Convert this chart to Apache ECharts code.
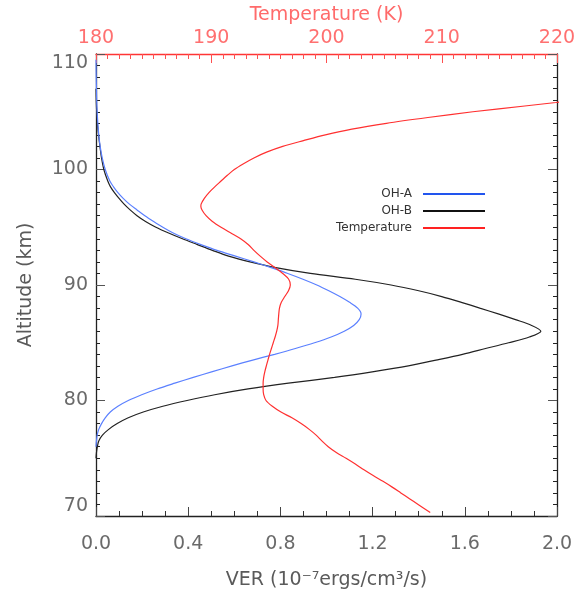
<!DOCTYPE html>
<html><head><meta charset="utf-8">
<script src="https://cdn.jsdelivr.net/npm/echarts@6/dist/echarts.min.js"></script>
<style>html,body{margin:0;padding:0;background:#fff}#c{width:577px;height:590px}</style>
</head><body><div id="c"></div>
<script>
// Altitude (km) and VER (1e-7 ergs/cm3/s) for OH-A
const ohaAlt = [76.0,76.5,77.0,77.5,78.0,78.5,79.0,79.5,80.0,80.5,81.0,81.5,82.0,82.5,83.0,83.5,84.0,84.5,85.0,85.5,86.0,86.5,87.0,87.5,88.0,88.5,89.0,89.5,90.0,90.5,91.0,91.5,92.0,92.5,93.0,93.5,94.0,94.5,95.0,95.5,96.0,96.5,97.0,97.5,98.0,98.5,99.0,100.0,101.0,102.0,103.0,104.0,105.0,106.0,107.0,108.0,109.5];
const ohaVer = [0.0,0.002,0.005,0.012,0.024,0.040,0.062,0.095,0.140,0.198,0.265,0.342,0.422,0.505,0.590,0.680,0.775,0.865,0.948,1.020,1.077,1.118,1.142,1.150,1.135,1.100,1.058,1.010,0.958,0.898,0.832,0.760,0.685,0.605,0.525,0.455,0.390,0.335,0.290,0.250,0.212,0.178,0.145,0.118,0.095,0.076,0.060,0.040,0.027,0.018,0.012,0.008,0.005,0.003,0.002,0.001,0.0];
// OH-B
const ohbAlt = [75.0,75.5,76.0,76.5,77.0,77.5,78.0,78.5,79.0,79.5,80.0,80.5,81.0,81.5,82.0,82.5,83.0,83.5,84.0,84.5,85.0,85.5,86.0,86.5,87.0,87.5,88.0,88.5,89.0,89.5,90.0,90.5,91.0,91.5,92.0,92.5,93.0,93.5,94.0,94.5,95.0,95.5,96.0,96.5,97.0,97.5,98.0,98.5,99.0,100.0,101.0,102.0,103.0,104.0,105.0,106.0,107.0];
const ohbVer = [0.0,0.002,0.006,0.012,0.028,0.055,0.092,0.140,0.205,0.290,0.395,0.515,0.660,0.835,1.035,1.205,1.355,1.475,1.590,1.690,1.790,1.880,1.930,1.890,1.820,1.745,1.665,1.585,1.500,1.400,1.280,1.125,0.930,0.780,0.668,0.575,0.505,0.440,0.375,0.315,0.260,0.215,0.178,0.148,0.122,0.100,0.080,0.063,0.051,0.034,0.024,0.017,0.011,0.006,0.003,0.001,0.0];
// Temperature (K)
const tAlt = [70.3,71.0,71.5,72.0,72.5,73.0,73.5,74.0,74.5,75.0,75.5,76.0,76.5,77.0,77.5,78.0,78.5,79.0,79.5,80.0,80.5,81.0,81.5,82.0,82.5,83.0,83.5,84.0,84.5,85.0,85.5,86.0,86.5,87.0,87.5,88.0,88.5,89.0,89.5,90.0,90.5,91.0,91.5,92.0,92.5,93.0,93.5,94.0,94.5,95.0,95.5,96.0,96.5,96.8,97.0,97.5,98.0,98.5,99.0,99.5,100.0,100.5,101.0,101.5,102.0,102.5,103.0,103.5,104.0,104.5,105.0,105.5,105.8,106.0];
const tVal = [209.0,207.95,207.2,206.45,205.7,204.9,204.05,203.25,202.5,201.7,200.85,200.15,199.6,199.1,198.5,197.8,197.0,196.05,195.3,194.75,194.55,194.5,194.5,194.55,194.65,194.78,194.92,195.06,195.22,195.38,195.54,195.68,195.78,195.82,195.86,195.92,196.08,196.38,196.7,196.86,196.72,196.2,195.55,194.85,194.25,193.7,193.2,192.55,191.7,190.85,190.1,189.55,189.2,189.1,189.12,189.4,189.8,190.3,190.85,191.4,192.0,192.8,193.7,194.8,196.2,198.0,199.9,202.2,205.2,208.8,212.7,217.2,219.9,221.5];
const verTicks = {min:0, max:2, interval:0.4};
const tempTicks = {min:180, max:220, interval:10};
const altTicks = {min:70, max:110, interval:10};

const FONT = 'DejaVu Sans';
const pair = (xs, ys) => xs.map((x,i)=>[x, ys[i]]);

const chart = echarts.init(document.getElementById('c'));
const darkAxis = {lineStyle:{color:'#222', width:1.3}};
const lbl = {color:'#6a6a6a', fontFamily:FONT, fontSize:19};
const legText = {fontFamily:FONT, fontSize:12, color:'#333', padding:[0,6,0,0]};
chart.setOption({
  backgroundColor:'#fff',
  animation:false,
  grid:{left:96, right:20, top:54, bottom:74, containLabel:false, outerBoundsMode:'none'},
  legend:[
    {data:[{name:'OH-A', itemStyle:{color:'#2255ee'}}], right:87, top:183, align:'right', icon:'rect', itemWidth:62, itemHeight:2, textStyle:legText},
    {data:[{name:'OH-B', itemStyle:{color:'#111'}}], right:87, top:200, align:'right', icon:'rect', itemWidth:62, itemHeight:2, textStyle:legText},
    {data:[{name:'Temperature', itemStyle:{color:'#ff2222'}}], right:87, top:217, align:'right', icon:'rect', itemWidth:62, itemHeight:2, textStyle:legText}
  ],
  xAxis:[
    {type:'value', position:'bottom', min:verTicks.min, max:verTicks.max, interval:verTicks.interval,
     name:'VER (10\u207B\u2077ergs/cm\u00B3/s)', nameLocation:'middle', nameGap:55,
     nameTextStyle:{color:'#5a5a5a', fontFamily:FONT, fontSize:19},
     axisLine:darkAxis, axisTick:{inside:true, length:9, lineStyle:{color:'#444'}},
     minorTick:{show:true, splitNumber:4, length:5, lineStyle:{color:'#333'}},
     splitLine:{show:false},
     axisLabel:Object.assign({margin:19, formatter:v=>v.toFixed(1)}, lbl)},
    {type:'value', position:'top', min:tempTicks.min, max:tempTicks.max, interval:tempTicks.interval,
     name:'Temperature (K)', nameLocation:'middle', nameGap:20,
     nameTextStyle:{color:'#ff6b6b', fontFamily:FONT, fontSize:19},
     axisLine:{lineStyle:{color:'#ff3535', width:1.3}}, axisTick:{inside:true, length:9, lineStyle:{color:'#ff5050'}},
     minorTick:{show:true, splitNumber:10, length:5, lineStyle:{color:'#ff5050'}},
     splitLine:{show:false},
     axisLabel:{color:'#ff7070', fontFamily:FONT, fontSize:19, margin:6}}
  ],
  yAxis:[
    {type:'value', position:'left', min:altTicks.min, max:altTicks.max, interval:altTicks.interval,
     name:'Altitude (km)', nameLocation:'middle', nameGap:60,
     nameTextStyle:{color:'#5a5a5a', fontFamily:FONT, fontSize:19},
     axisLine:darkAxis, axisTick:{inside:true, length:9, lineStyle:{color:'#555'}},
     minorTick:{show:true, splitNumber:10, length:4, lineStyle:{color:'#222'}},
     splitLine:{show:false},
     axisLabel:Object.assign({margin:8, verticalAlignMinLabel:'bottom', verticalAlignMaxLabel:'top'}, lbl)},
    {type:'value', position:'right', min:altTicks.min, max:altTicks.max, interval:altTicks.interval,
     axisLine:darkAxis, axisTick:{inside:true, length:9, lineStyle:{color:'#555'}},
     minorTick:{show:true, splitNumber:10, length:4, lineStyle:{color:'#222'}},
     splitLine:{show:false}, axisLabel:{show:false}}
  ],
  series:[
    {name:'OH-B', type:'line', xAxisIndex:0, yAxisIndex:0, data:pair(ohbVer, ohbAlt), showSymbol:false, smooth:0.3,
     lineStyle:{color:'#222', width:1.2}, itemStyle:{color:'#111'}},
    {name:'OH-A', type:'line', xAxisIndex:0, yAxisIndex:0, data:pair(ohaVer, ohaAlt), showSymbol:false, smooth:0.3,
     lineStyle:{color:'#5b80ff', width:1.2}, itemStyle:{color:'#2255ee'}},
    {name:'Temperature', type:'line', xAxisIndex:1, yAxisIndex:0, data:pair(tVal, tAlt), showSymbol:false, smooth:0.3,
     lineStyle:{color:'#ff3030', width:1.2}, itemStyle:{color:'#ff2222'}}
  ]
});
</script></body></html>
